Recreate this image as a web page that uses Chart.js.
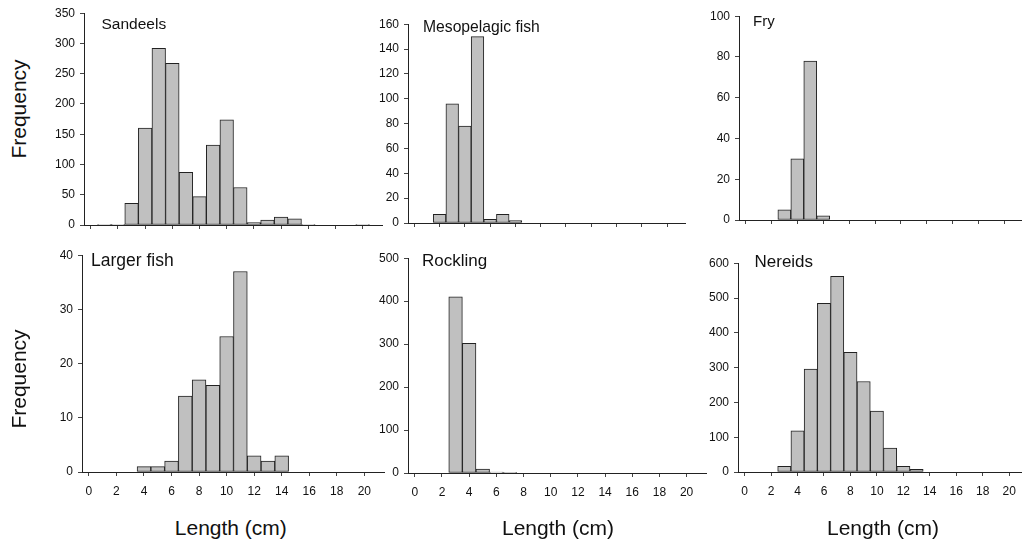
<!DOCTYPE html>
<html>
<head>
<meta charset="utf-8">
<script src="https://cdn.jsdelivr.net/npm/chart.js@4/dist/chart.umd.min.js"></script>
<style>
  html, body { margin: 0; padding: 0; background: #fff; width: 1022px; height: 545px; overflow: hidden; }
  body { position: relative; font-family: "Liberation Sans", Arial, sans-serif; color: #111; }
  .box { position: absolute; }
  .lbl { position: absolute; white-space: nowrap; line-height: 1; font-family: "Liberation Sans", Arial, sans-serif; color: #111; }
</style>
</head>
<body>
<script>
// ---- data ----
const lengths = [0,1,2,3,4,5,6,7,8,9,10,11,12,13,14,15,16,17,18,19,20];
const xTickValues = [0,2,4,6,8,10,12,14,16,18,20];
const sandeels    = [0,1,1,36,160,292,267,87,47,132,174,62,4,8,13,10,1,0,0,0,1];
const mesopelagic = [0,0,7,96,78,150,3,7,2,0,0,0,0,0,0,0,0,0,0,0,0];
const fry         = [0,0,0,5,30,78,2,0,0,0,0,0,0,0,0,0,0,0,0,0,0];
const largerFish  = [0,0,0,0,1,1,2,14,17,16,25,37,3,2,3,0,0,0,0,0,0];
const rockling    = [0,0,0,410,302,9,2,1,0,0,0,0,0,0,0,0,0,0,0,0,0];
const nereids     = [0,0,0,16,118,296,485,562,344,260,175,69,16,8,0,0,0,0,0,0,0];
const titles = ["Sandeels","Mesopelagic fish","Fry","Larger fish","Rockling","Nereids"];
const yMax  = [350,160,100,40,500,600];
const yStep = [50,20,20,10,100,100];
const series = [sandeels, mesopelagic, fry, largerFish, rockling, nereids];

// ---- layout (chart areas in page pixels) ----
const areas = [
  {l:84,  r:383,  t:13,  b:225},
  {l:408, r:686,  t:24,  b:223},
  {l:739, r:1024, t:16,  b:220},
  {l:82,  r:385,  t:255, b:472},
  {l:408, r:707,  t:258, b:473},
  {l:738, r:1029, t:263, b:472}
];
const titlePos = [
  {x:101.5, y:16.2, s:15.5},
  {x:423,   y:18.6, s:15.7},
  {x:753,   y:12.7, s:15},
  {x:91,    y:251.7, s:17.5},
  {x:422,   y:251.8, s:17},
  {x:754.5, y:253.1, s:17}
];
const YW = 50, XH = 30, PT = 12;
const FONT = "'Liberation Sans', Arial, sans-serif";

function addLabel(text, x, y, size, extra) {
  const d = document.createElement('div');
  d.className = 'lbl';
  d.textContent = text;
  d.style.left = x + 'px';
  d.style.top = y + 'px';
  d.style.fontSize = size + 'px';
  if (extra) Object.assign(d.style, extra);
  document.body.appendChild(d);
  return d;
}

series.forEach((vals, i) => {
  const a = areas[i];
  const box = document.createElement('div');
  box.className = 'box';
  const w = a.r - a.l + YW, h = a.b - a.t + PT + XH;
  box.style.left = (a.l - YW) + 'px';
  box.style.top = (a.t - PT) + 'px';
  box.style.width = w + 'px';
  box.style.height = h + 'px';
  const cv = document.createElement('canvas');
  box.appendChild(cv);
  document.body.appendChild(box);
  const bottomRow = i >= 3;
  new Chart(cv, {
    type: 'bar',
    data: {
      datasets: [{
        data: lengths.map((x, k) => ({x: x, y: vals[k]})),
        backgroundColor: '#c0c0c0',
        borderColor: '#222',
        borderWidth: 1,
        borderSkipped: false,
        barPercentage: 1,
        categoryPercentage: 1
      }]
    },
    options: {
      responsive: true,
      maintainAspectRatio: false,
      animation: false,
      layout: { padding: { top: PT, left: 0, right: 0, bottom: 0 } },
      plugins: { legend: { display: false }, tooltip: { enabled: false }, title: { display: false } },
      scales: {
        x: {
          type: 'linear',
          min: -0.5,
          max: 21.5,
          offset: false,
          afterFit: s => { s.height = XH; },
          afterBuildTicks: s => { s.ticks = xTickValues.map(v => ({value: v})); },
          border: { display: true, color: '#222', width: 1 },
          grid: { display: true, offset: false, drawOnChartArea: false, drawTicks: true, tickLength: 4, color: '#444', lineWidth: 1 },
          ticks: {
            display: bottomRow,
            padding: 8,
            maxRotation: 0,
            autoSkip: false,
            color: '#111',
            font: { family: FONT, size: 12 }
          }
        },
        y: {
          min: 0,
          max: yMax[i],
          afterFit: s => { s.width = YW; },
          border: { display: true, color: '#222', width: 1 },
          grid: { display: true, drawOnChartArea: false, drawTicks: true, tickLength: 4, color: '#444', lineWidth: 1 },
          ticks: {
            stepSize: yStep[i],
            padding: 5,
            color: '#111',
            font: { family: FONT, size: 12 }
          }
        }
      }
    }
  });
  const tp = titlePos[i];
  addLabel(titles[i], tp.x, tp.y, tp.s);
});

// axis titles
[109, 379].forEach(cy => {
  const d = addLabel('Frequency', 17.7, cy, 21, {transform: 'translate(-50%,-50%) rotate(-90deg)'});
});
[230.8, 558, 883].forEach(cx => {
  addLabel('Length (cm)', cx, 517.3, 21, {transform: 'translateX(-50%)'});
});
</script>
</body>
</html>
